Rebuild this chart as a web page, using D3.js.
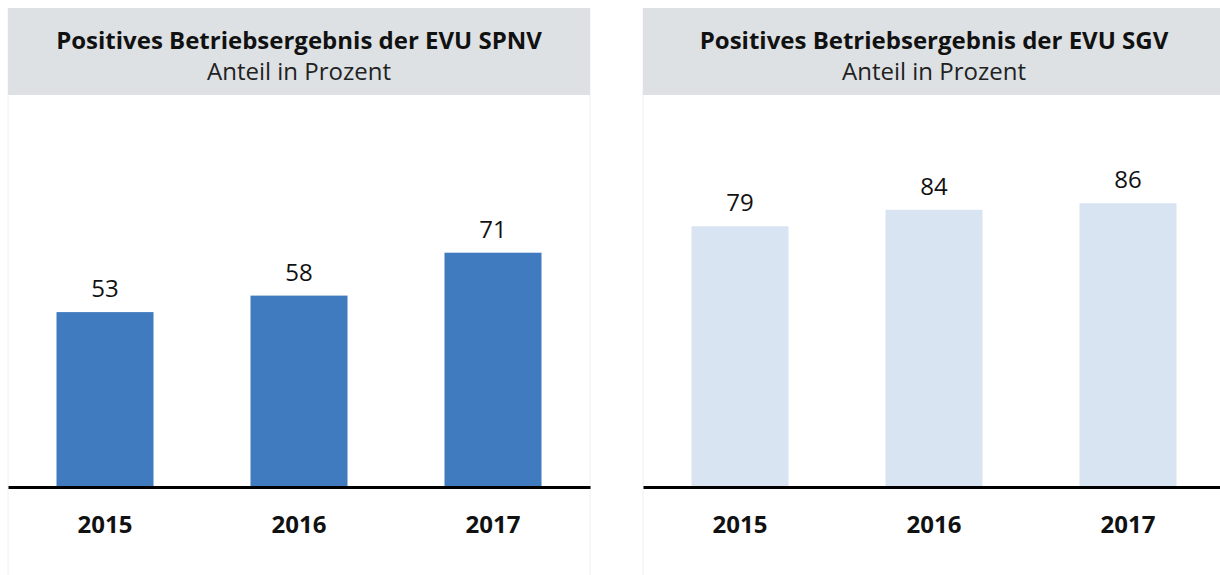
<!DOCTYPE html>
<html><head><meta charset="utf-8">
<script src="https://cdn.jsdelivr.net/npm/d3@7"></script>
<style>
html,body{margin:0;padding:0;background:#fff;}
svg{display:block;}
text{font-family:"Open Sans",sans-serif;}
</style></head>
<body><svg id="chart" width="1220" height="575"></svg>
<script>
const years = ["2015", "2016", "2017"];
const spnvValues = [53, 58, 71];
const sgvValues = [79, 84, 86];
const titles = ["Positives Betriebsergebnis der EVU SPNV", "Positives Betriebsergebnis der EVU SGV"];
const subtitle = "Anteil in Prozent";
const colors = ["#417bbf", "#d9e4f2"];

const svg = d3.select("#chart");
const panels = [
  {x0: 8, title: titles[0], values: spnvValues, color: colors[0]},
  {x0: 643, title: titles[1], values: sgvValues, color: colors[1]}
];
const panelW = 582, baseY = 487, headerTop = 8, headerBottom = 95;
const y = d3.scaleLinear().domain([0, 100]).range([baseY, baseY - 330]);

panels.forEach(p => {
  const g = svg.append("g").attr("transform", `translate(${p.x0},0)`);
  g.append("line").attr("x1", 0).attr("x2", 0).attr("y1", headerTop).attr("y2", 575).attr("stroke", "#eef0f2").attr("stroke-width", 1);
  g.append("line").attr("x1", panelW).attr("x2", panelW).attr("y1", headerTop).attr("y2", 575).attr("stroke", "#eef0f2").attr("stroke-width", 1);
  g.append("rect").attr("x", 0).attr("y", headerTop).attr("width", panelW).attr("height", headerBottom - headerTop).attr("fill", "#dde1e4");
  g.append("text").attr("x", panelW / 2).attr("y", 49).attr("text-anchor", "middle")
    .attr("font-size", 24).attr("font-weight", 700).attr("fill", "#111").text(p.title);
  g.append("text").attr("x", panelW / 2).attr("y", 80).attr("text-anchor", "middle")
    .attr("font-size", 24).attr("fill", "#222").text(subtitle);

  const x = d3.scaleBand().domain(years).range([0, panelW]).padding(0.5).paddingOuter(0.25);
  g.selectAll("rect.bar").data(p.values).join("rect").attr("class", "bar")
    .attr("x", (d, i) => x(years[i])).attr("width", x.bandwidth())
    .attr("y", d => y(d)).attr("height", d => y(0) - y(d)).attr("fill", p.color);
  g.selectAll("text.val").data(p.values).join("text").attr("class", "val")
    .attr("x", (d, i) => x(years[i]) + x.bandwidth() / 2).attr("y", d => y(d) - 15)
    .attr("text-anchor", "middle").attr("font-size", 24).attr("fill", "#111").text(d => d);

  const axis = d3.axisBottom(x).tickSize(0).tickPadding(0);
  const ag = g.append("g").attr("transform", `translate(0,${baseY})`).call(axis);
  ag.select(".domain").attr("stroke", "#000").attr("stroke-width", 3);
  ag.selectAll(".tick text").attr("dy", 0).attr("y", 46).attr("font-size", 24).attr("font-weight", 700)
    .attr("fill", "#111").style("font-family", "'Open Sans',sans-serif");
});
</script></body></html>
